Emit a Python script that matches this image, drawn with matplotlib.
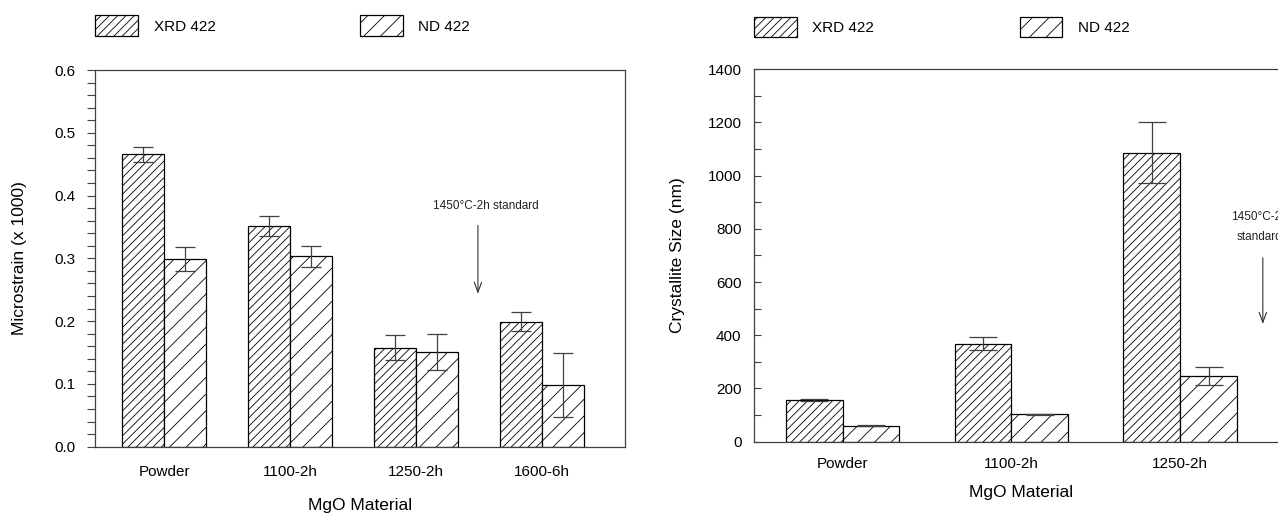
import numpy as np
import matplotlib
matplotlib.use('Agg')
import matplotlib.pyplot as plt

plt.rcParams['font.family'] = ['Liberation Sans', 'DejaVu Sans']
plt.rcParams['hatch.linewidth'] = 0.6
plt.rcParams['axes.linewidth'] = 0.9
plt.rcParams['axes.edgecolor'] = '#404040'

# microstrain data (left panel)
strain_groups = ['Powder', '1100-2h', '1250-2h', '1600-6h']
xrd_strain = [0.466, 0.351, 0.158, 0.199]
xrd_strain_err = [0.012, 0.016, 0.020, 0.015]
nd_strain = [0.299, 0.303, 0.151, 0.098]
nd_strain_err = [0.019, 0.016, 0.029, 0.051]

# crystallite size data (right panel)
size_groups = ['Powder', '1100-2h', '1250-2h']
xrd_size = [156, 368, 1087]
xrd_size_err = [3, 24, 115]
nd_size = [60, 103, 246]
nd_size_err = [2, 3, 33]

fig = plt.figure(figsize=(12.78, 5.16), dpi=100)
ax1 = fig.add_axes([0.0743, 0.1343, 0.4150, 0.7300])
ax2 = fig.add_axes([0.5900, 0.1440, 0.4174, 0.7217])


def draw_panel(ax, groups, xrd, xrd_err, nd, nd_err, w, capsize):
    x = np.arange(len(groups))
    b1 = ax.bar(x - w / 2, xrd, w, color='white', edgecolor='black',
                hatch='////', linewidth=0.9, label='XRD 422', zorder=2)
    b2 = ax.bar(x + w / 2, nd, w, color='white', edgecolor='black',
                hatch='//', linewidth=0.9, label='ND 422', zorder=2)
    ax.errorbar(x - w / 2, xrd, yerr=xrd_err, fmt='none', ecolor='#404040',
                elinewidth=0.9, capsize=capsize, capthick=0.9, zorder=3)
    ax.errorbar(x + w / 2, nd, yerr=nd_err, fmt='none', ecolor='#404040',
                elinewidth=0.9, capsize=capsize, capthick=0.9, zorder=3)
    ax.set_xticks(x)
    ax.set_xticklabels(groups)
    ax.set_xlabel('MgO Material', fontsize=12.5)
    return b1, b2


# 왼쪽: microstrain
b1, b2 = draw_panel(ax1, strain_groups, xrd_strain, xrd_strain_err,
                    nd_strain, nd_strain_err, 0.333, 7.5)
ax1.set_xlim(-0.55, 3.66)
ax1.set_ylim(0, 0.6)
ax1.set_yticks(np.arange(0, 0.61, 0.1))
ax1.set_yticks(np.arange(0, 0.601, 0.02), minor=True)
ax1.yaxis.set_major_formatter(matplotlib.ticker.FormatStrFormatter('%.1f'))
ax1.tick_params(axis='y', which='both', direction='out', length=6,
                width=0.8, color='#404040', labelsize=11, pad=8)
ax1.tick_params(axis='x', length=0, labelsize=11, pad=13)
ax1.set_ylabel('Microstrain (x 1000)', fontsize=12.5, labelpad=20)
ax1.xaxis.labelpad = 14
ax1.annotate('', xy=(2.49, 0.239), xytext=(2.49, 0.357),
             arrowprops=dict(arrowstyle='->,head_length=0.6,head_width=0.22',
                             color='#333333', lw=0.8, mutation_scale=12))
ax1.text(2.55, 0.383, '1450°C-2h standard', ha='center', va='center',
         fontsize=8.5, color='#222222')
ax1.legend(handles=[b1, b2], loc='lower left', bbox_to_anchor=(0.0747, 0.930),
           bbox_transform=fig.transFigure, ncol=2, frameon=False,
           borderpad=0, borderaxespad=0, handlelength=2.8, handleheight=1.7,
           handletextpad=1.0, columnspacing=9.45, fontsize=11)

# 오른쪽: crystallite size
c1, c2 = draw_panel(ax2, size_groups, xrd_size, xrd_size_err,
                    nd_size, nd_size_err, 0.336, 10)
ax2.set_xlim(-0.526, 2.636)
ax2.set_ylim(0, 1400)
ax2.set_yticks(np.arange(0, 1401, 200))
ax2.set_yticks(np.arange(0, 1401, 100), minor=True)
ax2.tick_params(axis='y', which='both', direction='in', length=5,
                width=0.8, color='#404040', labelsize=11, pad=9)
ax2.tick_params(axis='x', length=0, labelsize=11, pad=11)
ax2.set_ylabel('Crystallite Size (nm)', fontsize=12.5, labelpad=16)
ax2.xaxis.labelpad = 10
ax2.annotate('', xy=(2.49, 432), xytext=(2.49, 702),
             arrowprops=dict(arrowstyle='->,head_length=0.6,head_width=0.22',
                             color='#333333', lw=0.8, mutation_scale=12))
ax2.text(2.47, 806, '1450°C-2h\nstandard', ha='center', va='center',
         fontsize=8.5, linespacing=1.9, color='#222222')
ax2.legend(handles=[c1, c2], loc='lower left', bbox_to_anchor=(0.5898, 0.928),
           bbox_transform=fig.transFigure, ncol=2, frameon=False,
           borderpad=0, borderaxespad=0, handlelength=2.8, handleheight=1.7,
           handletextpad=1.0, columnspacing=9.55, fontsize=11)

fig.savefig('out.png', dpi=100)
